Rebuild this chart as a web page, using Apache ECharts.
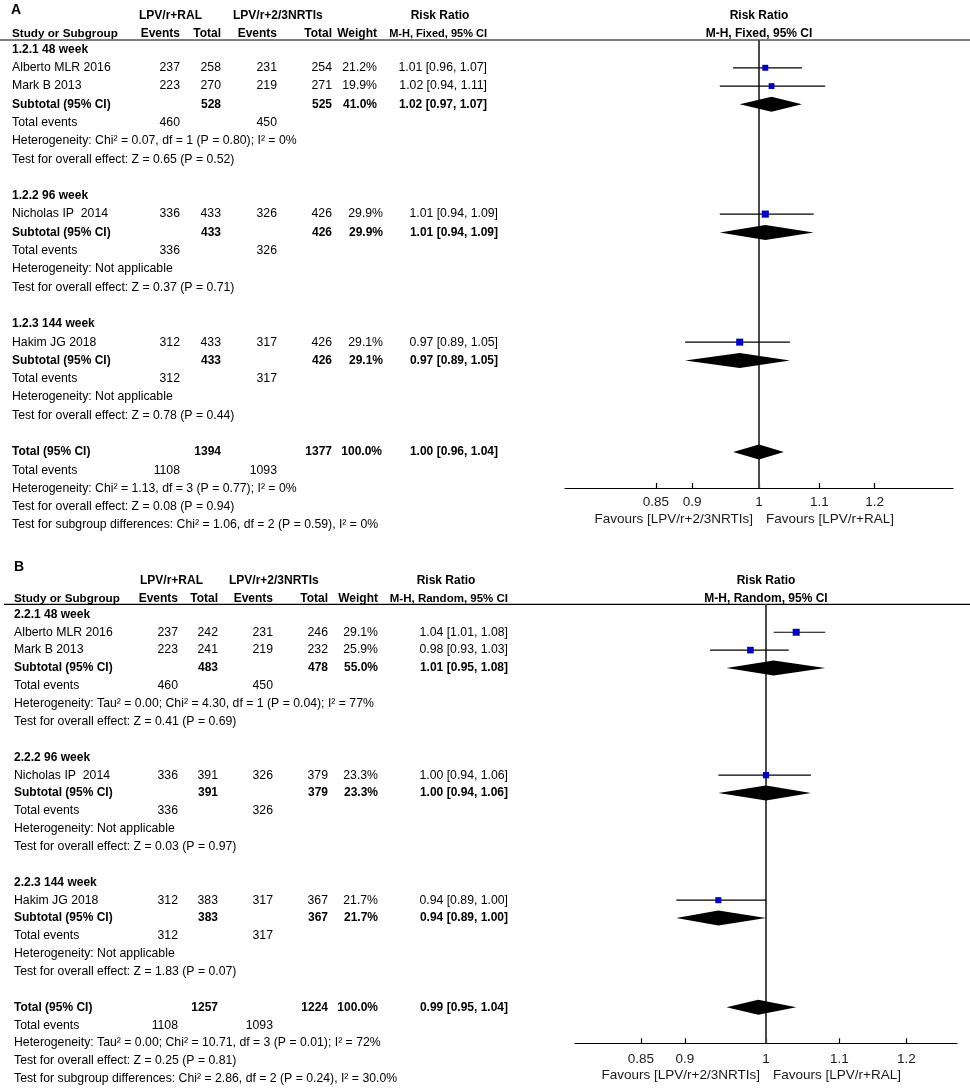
<!DOCTYPE html>
<html><head><meta charset="utf-8">
<script src="https://cdn.jsdelivr.net/npm/echarts@6/dist/echarts.min.js"></script>
<style>html,body{margin:0;padding:0;background:#fff}#c{width:970px;height:1092px}</style>
</head><body><div id="c"></div>
<script>
// ================= DATA =================
const studyNames = ['Alberto MLR 2016', 'Mark B 2013', 'Nicholas IP  2014', 'Hakim JG 2018'];
const studySubgroup = [0, 0, 1, 2];
const groupLabels = ['LPV/r+RAL', 'LPV/r+2/3NRTIs'];
const favoursLabels = ['Favours [LPV/r+2/3NRTIs]', 'Favours [LPV/r+RAL]'];
const tickValues = [0.85, 0.9, 1, 1.1, 1.2];
const tickLabels = ['0.85', '0.9', '1', '1.1', '1.2'];

// ---- Panel A (M-H, Fixed) ----
const subgroupNamesA = ['1.2.1 48 week', '1.2.2 96 week', '1.2.3 144 week'];
const eventsRalA = [237, 223, 336, 312];
const totalRalA = [258, 270, 433, 433];
const eventsNrtiA = [231, 219, 326, 317];
const totalNrtiA = [254, 271, 426, 426];
const weightA = [21.2, 19.9, 29.9, 29.1];
const rrA = [1.01, 1.02, 1.01, 0.97];
const lowA = [0.96, 0.94, 0.94, 0.89];
const highA = [1.07, 1.11, 1.09, 1.05];
const subTotalRalA = [528, 433, 433];
const subTotalNrtiA = [525, 426, 426];
const subWeightA = [41.0, 29.9, 29.1];
const subRrA = [1.02, 1.01, 0.97];
const subLowA = [0.97, 0.94, 0.89];
const subHighA = [1.07, 1.09, 1.05];
const subEventsRalA = [460, 336, 312];
const subEventsNrtiA = [450, 326, 317];
const subHetA = ['Chi\u00b2 = 0.07, df = 1 (P = 0.80); I\u00b2 = 0%', 'Not applicable', 'Not applicable'];
const subEffectA = ['Z = 0.65 (P = 0.52)', 'Z = 0.37 (P = 0.71)', 'Z = 0.78 (P = 0.44)'];
const overallTotalsA = [1394, 1377];
const overallEventsA = [1108, 1093];
const overallWeightA = 100.0;
const overallRrA = [1.00, 0.96, 1.04];
const overallHetA = 'Chi\u00b2 = 1.13, df = 3 (P = 0.77); I\u00b2 = 0%';
const overallEffectA = 'Z = 0.08 (P = 0.94)';
const subgroupDiffA = 'Chi\u00b2 = 1.06, df = 2 (P = 0.59), I\u00b2 = 0%';

// ---- Panel B (M-H, Random) ----
const subgroupNamesB = ['2.2.1 48 week', '2.2.2 96 week', '2.2.3 144 week'];
const eventsRalB = [237, 223, 336, 312];
const totalRalB = [242, 241, 391, 383];
const eventsNrtiB = [231, 219, 326, 317];
const totalNrtiB = [246, 232, 379, 367];
const weightB = [29.1, 25.9, 23.3, 21.7];
const rrB = [1.04, 0.98, 1.00, 0.94];
const lowB = [1.01, 0.93, 0.94, 0.89];
const highB = [1.08, 1.03, 1.06, 1.00];
const subTotalRalB = [483, 391, 383];
const subTotalNrtiB = [478, 379, 367];
const subWeightB = [55.0, 23.3, 21.7];
const subRrB = [1.01, 1.00, 0.94];
const subLowB = [0.95, 0.94, 0.89];
const subHighB = [1.08, 1.06, 1.00];
const subEventsRalB = [460, 336, 312];
const subEventsNrtiB = [450, 326, 317];
const subHetB = ['Tau\u00b2 = 0.00; Chi\u00b2 = 4.30, df = 1 (P = 0.04); I\u00b2 = 77%', 'Not applicable', 'Not applicable'];
const subEffectB = ['Z = 0.41 (P = 0.69)', 'Z = 0.03 (P = 0.97)', 'Z = 1.83 (P = 0.07)'];
const overallTotalsB = [1257, 1224];
const overallEventsB = [1108, 1093];
const overallWeightB = 100.0;
const overallRrB = [0.99, 0.95, 1.04];
const overallHetB = 'Tau\u00b2 = 0.00; Chi\u00b2 = 10.71, df = 3 (P = 0.01); I\u00b2 = 72%';
const overallEffectB = 'Z = 0.25 (P = 0.81)';
const subgroupDiffB = 'Chi\u00b2 = 2.86, df = 2 (P = 0.24), I\u00b2 = 30.0%';

// ================= LAYOUT =================
const FONT = '"Liberation Sans", Arial, sans-serif';
const NORMAL_SIZE = 12.25;
const layoutA = {
  panelLabel: 'A', labelX: 11, labelY: 10, head1Y: 16, head2Y: 34, lineY: 40, lineX0: 0,
  row0Y: 49.5, rowH: 18.29, axisY: 488, plotLeft: 565, plotWidth: 388, halfRange: 0.306,
  labelColX: 12, grp1X: 139, grp2X: 233, ev1: 180, tot1: 221, ev2: 277, tot2: 332,
  headWt: 377, headCi: 487, headCiSize: 11, rrHeadX: 440, wtX: [377, 383, 383], ciX: [487, 498, 498], totWt: 382, totCi: 498,
  method: 'M-H, Fixed, 95% CI', labelMargin: 7, favY: 519, diaH: 7.5
};
const layoutB = {
  panelLabel: 'B', labelX: 14, labelY: 567, head1Y: 581, head2Y: 598.5, lineY: 604.3, lineX0: 4,
  row0Y: 614.4, rowH: 17.86, axisY: 1043.3, plotLeft: 575, plotWidth: 382, halfRange: 0.248,
  labelColX: 14, grp1X: 140, grp2X: 229, ev1: 178, tot1: 218, ev2: 273, tot2: 328,
  headWt: 378, headCi: 508, headCiSize: 11.5, rrHeadX: 446, wtX: [378, 378, 378], ciX: [508, 508, 508], totWt: 378, totCi: 508,
  method: 'M-H, Random, 95% CI', labelMargin: 8.5, favY: 1075, diaH: 7.5
};

function txt(x, y, text, o) {
  o = o || {};
  const al = o.align || 'left';
  const size = o.size || (o.bold ? 12 : NORMAL_SIZE);
  return { type: 'text', x: x, y: y, silent: true, z: 10,
    style: { text: String(text), font: (o.bold ? 'bold ' : '') + size + 'px ' + FONT,
      fill: o.color || '#000', align: al, verticalAlign: 'middle', textAlign: al, textVerticalAlign: 'middle' } };
}
const fmtW = w => w.toFixed(1) + '%';
const fmtCI = (r, l, h) => r.toFixed(2) + ' [' + l.toFixed(2) + ', ' + h.toFixed(2) + ']';
const tickLn = tickValues.map(Math.log);

function buildPanel(L, D, idx) {
  const g = [];
  const rowY = r => L.row0Y + r * L.rowH;
  const plotCenter = L.plotLeft + L.plotWidth / 2;
  // headers
  g.push(txt(L.labelX, L.labelY, L.panelLabel, { bold: true, size: 14 }));
  g.push(txt(L.grp1X, L.head1Y, groupLabels[0], { bold: true }));
  g.push(txt(L.grp2X, L.head1Y, groupLabels[1], { bold: true }));
  g.push(txt(L.rrHeadX, L.head1Y, 'Risk Ratio', { bold: true, align: 'center' }));
  g.push(txt(plotCenter, L.head1Y, 'Risk Ratio', { bold: true, align: 'center' }));
  g.push(txt(L.labelColX, L.head2Y, 'Study or Subgroup', { bold: true, size: 11.7 }));
  g.push(txt(L.ev1, L.head2Y, 'Events', { bold: true, align: 'right' }));
  g.push(txt(L.tot1, L.head2Y, 'Total', { bold: true, align: 'right' }));
  g.push(txt(L.ev2, L.head2Y, 'Events', { bold: true, align: 'right' }));
  g.push(txt(L.tot2, L.head2Y, 'Total', { bold: true, align: 'right' }));
  g.push(txt(L.headWt, L.head2Y, 'Weight', { bold: true, align: 'right' }));
  g.push(txt(L.headCi, L.head2Y, L.method, { bold: true, align: 'right', size: L.headCiSize }));
  g.push(txt(plotCenter, L.head2Y, L.method, { bold: true, align: 'center' }));
  g.push({ type: 'line', silent: true, shape: { x1: L.lineX0, y1: L.lineY, x2: 970, y2: L.lineY },
    style: { stroke: '#000', lineWidth: 1.2 } });
  // favours
  g.push(txt(plotCenter - 6, L.favY, favoursLabels[0], { size: 13.5, align: 'right', color: '#1a1a1a' }));
  g.push(txt(plotCenter + 7, L.favY, favoursLabels[1], { size: 13.5, align: 'left', color: '#1a1a1a' }));

  const ciData = [], sqData = [], diaData = [];
  let r = 0;
  for (let s = 0; s < D.subNames.length; s++) {
    g.push(txt(L.labelColX, rowY(r), D.subNames[s], { bold: true })); r++;
    for (let i = 0; i < studyNames.length; i++) {
      if (studySubgroup[i] !== s) continue;
      const y = rowY(r);
      g.push(txt(L.labelColX, y, studyNames[i]));
      g.push(txt(L.ev1, y, D.evR[i], { align: 'right' }));
      g.push(txt(L.tot1, y, D.totR[i], { align: 'right' }));
      g.push(txt(L.ev2, y, D.evN[i], { align: 'right' }));
      g.push(txt(L.tot2, y, D.totN[i], { align: 'right' }));
      g.push(txt(L.wtX[s], y, fmtW(D.w[i]), { align: 'right' }));
      g.push(txt(L.ciX[s], y, fmtCI(D.rr[i], D.lo[i], D.hi[i]), { align: 'right' }));
      ciData.push([Math.log(D.lo[i]), Math.log(D.hi[i]), r]);
      sqData.push([Math.log(D.rr[i]), r, D.w[i]]);
      r++;
    }
    let y = rowY(r);
    g.push(txt(L.labelColX, y, 'Subtotal (95% CI)', { bold: true }));
    g.push(txt(L.tot1, y, D.sTotR[s], { bold: true, align: 'right' }));
    g.push(txt(L.tot2, y, D.sTotN[s], { bold: true, align: 'right' }));
    g.push(txt(L.wtX[s], y, fmtW(D.sW[s]), { bold: true, align: 'right' }));
    g.push(txt(L.ciX[s], y, fmtCI(D.sRr[s], D.sLo[s], D.sHi[s]), { bold: true, align: 'right' }));
    diaData.push([Math.log(D.sLo[s]), Math.log(D.sRr[s]), Math.log(D.sHi[s]), r]);
    r++;
    y = rowY(r);
    g.push(txt(L.labelColX, y, 'Total events'));
    g.push(txt(L.ev1, y, D.sEvR[s], { align: 'right' }));
    g.push(txt(L.ev2, y, D.sEvN[s], { align: 'right' }));
    r++;
    g.push(txt(L.labelColX, rowY(r), 'Heterogeneity: ' + D.sHet[s])); r++;
    g.push(txt(L.labelColX, rowY(r), 'Test for overall effect: ' + D.sEff[s])); r++;
    r++; // blank row
  }
  let y = rowY(r);
  g.push(txt(L.labelColX, y, 'Total (95% CI)', { bold: true }));
  g.push(txt(L.tot1, y, D.oTot[0], { bold: true, align: 'right' }));
  g.push(txt(L.tot2, y, D.oTot[1], { bold: true, align: 'right' }));
  g.push(txt(L.totWt, y, fmtW(D.oW), { bold: true, align: 'right' }));
  g.push(txt(L.totCi, y, fmtCI(D.oRr[0], D.oRr[1], D.oRr[2]), { bold: true, align: 'right' }));
  diaData.push([Math.log(D.oRr[1]), Math.log(D.oRr[0]), Math.log(D.oRr[2]), r]);
  r++;
  y = rowY(r);
  g.push(txt(L.labelColX, y, 'Total events'));
  g.push(txt(L.ev1, y, D.oEv[0], { align: 'right' }));
  g.push(txt(L.ev2, y, D.oEv[1], { align: 'right' }));
  r++;
  g.push(txt(L.labelColX, rowY(r), 'Heterogeneity: ' + D.oHet)); r++;
  g.push(txt(L.labelColX, rowY(r), 'Test for overall effect: ' + D.oEff)); r++;
  g.push(txt(L.labelColX, rowY(r), 'Test for subgroup differences: ' + D.oSub)); r++;

  const yMin = (L.lineY - L.row0Y) / L.rowH;
  const yMax = (L.axisY - L.row0Y) / L.rowH;
  const grid = { left: L.plotLeft, top: L.lineY, width: L.plotWidth, height: L.axisY - L.lineY, containLabel: false };
  const xAxis = {
    gridIndex: idx, type: 'value', min: -L.halfRange, max: L.halfRange, position: 'bottom',
    axisLine: { show: true, onZero: false, lineStyle: { color: '#000', width: 1.2 } },
    axisTick: { show: true, inside: true, length: 5, customValues: tickLn, lineStyle: { color: '#000', width: 1.2 } },
    axisLabel: { show: true, customValues: tickLn, margin: L.labelMargin, fontSize: 13.5, fontFamily: FONT, color: '#1a1a1a',
      formatter: v => { const k = tickLn.findIndex(t => Math.abs(t - v) < 1e-6); return k >= 0 ? tickLabels[k] : ''; } },
    splitLine: { show: false }
  };
  const yAxis = { gridIndex: idx, type: 'value', inverse: true, min: yMin, max: yMax, show: false, splitLine: { show: false } };
  const series = [
    { type: 'line', xAxisIndex: idx, yAxisIndex: idx, data: [[0, yMin], [0, yMax]], symbol: 'none', silent: true,
      lineStyle: { color: '#4a4a4a', width: 2 }, z: 2, animation: false },
    { type: 'custom', xAxisIndex: idx, yAxisIndex: idx, data: ciData, clip: false, silent: true, z: 3, animation: false,
      renderItem: (p, api) => {
        const a = api.coord([api.value(0), api.value(2)]);
        const b = api.coord([api.value(1), api.value(2)]);
        return { type: 'line', shape: { x1: a[0], y1: a[1], x2: b[0], y2: b[1] }, style: { stroke: '#000', lineWidth: 1.2 } };
      } },
    { type: 'custom', xAxisIndex: idx, yAxisIndex: idx, data: sqData, clip: false, silent: true, z: 4, animation: false,
      renderItem: (p, api) => {
        const c = api.coord([api.value(0), api.value(1)]);
        const s = 1.3 * Math.sqrt(api.value(2));
        return { type: 'rect', shape: { x: c[0] - s / 2, y: c[1] - s / 2, width: s, height: s }, style: { fill: '#0000c8' } };
      } },
    { type: 'custom', xAxisIndex: idx, yAxisIndex: idx, data: diaData, clip: false, silent: true, z: 4, animation: false,
      renderItem: (p, api) => {
        const lo = api.coord([api.value(0), api.value(3)]);
        const mid = api.coord([api.value(1), api.value(3)]);
        const hi = api.coord([api.value(2), api.value(3)]);
        const h = L.diaH;
        return { type: 'polygon', shape: { points: [[lo[0], lo[1]], [mid[0], mid[1] - h], [hi[0], hi[1]], [mid[0], mid[1] + h]] },
          style: { fill: '#000' } };
      } }
  ];
  return { graphics: g, grid, xAxis, yAxis, series };
}

const PA = buildPanel(layoutA, {
  subNames: subgroupNamesA, evR: eventsRalA, totR: totalRalA, evN: eventsNrtiA, totN: totalNrtiA, w: weightA,
  rr: rrA, lo: lowA, hi: highA, sTotR: subTotalRalA, sTotN: subTotalNrtiA, sW: subWeightA, sRr: subRrA, sLo: subLowA,
  sHi: subHighA, sEvR: subEventsRalA, sEvN: subEventsNrtiA, sHet: subHetA, sEff: subEffectA,
  oTot: overallTotalsA, oEv: overallEventsA, oW: overallWeightA, oRr: overallRrA, oHet: overallHetA, oEff: overallEffectA, oSub: subgroupDiffA
}, 0);
const PB = buildPanel(layoutB, {
  subNames: subgroupNamesB, evR: eventsRalB, totR: totalRalB, evN: eventsNrtiB, totN: totalNrtiB, w: weightB,
  rr: rrB, lo: lowB, hi: highB, sTotR: subTotalRalB, sTotN: subTotalNrtiB, sW: subWeightB, sRr: subRrB, sLo: subLowB,
  sHi: subHighB, sEvR: subEventsRalB, sEvN: subEventsNrtiB, sHet: subHetB, sEff: subEffectB,
  oTot: overallTotalsB, oEv: overallEventsB, oW: overallWeightB, oRr: overallRrB, oHet: overallHetB, oEff: overallEffectB, oSub: subgroupDiffB
}, 1);

const chart = echarts.init(document.getElementById('c'), null, { renderer: 'canvas' });
chart.setOption({
  backgroundColor: '#fff',
  animation: false,
  grid: [PA.grid, PB.grid],
  xAxis: [PA.xAxis, PB.xAxis],
  yAxis: [PA.yAxis, PB.yAxis],
  series: PA.series.concat(PB.series),
  graphic: { elements: PA.graphics.concat(PB.graphics) }
});
</script>
</body></html>
